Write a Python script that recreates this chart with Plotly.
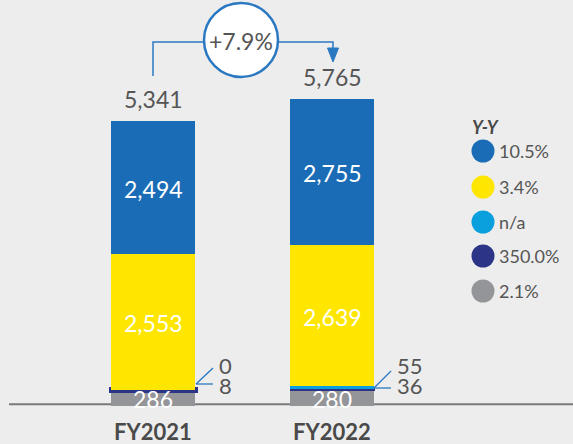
import plotly.graph_objects as go

# ---------------- data ----------------
categories = ["FY2021", "FY2022"]
gray_vals = [286, 280]
navy_vals = [8, 36]
lightblue_vals = [0, 55]
yellow_vals = [2553, 2639]
blue_vals = [2494, 2755]
totals = [5341, 5765]
growth_label = "+7.9%"
legend_title = "Y-Y"
legend_labels = ["10.5%", "3.4%", "n/a", "350.0%", "2.1%"]

# ---------------- style ----------------
W, H = 573, 444
BG = "#ededed"
C_BLUE = "#1a6cb6"
C_YELLOW = "#ffe600"
C_LBLUE = "#0aa0de"
C_NAVY = "#2b3486"
C_GRAY = "#949598"
C_LINE = "#2a78c2"
TXT = "#555555"
FONT = "Lato"

BASE_PX = 405.5      # pixel row of value 0
SCALE = 0.0532       # pixels per unit
yrange = [-(H - BASE_PX) / SCALE, BASE_PX / SCALE]
PX_PER_CAT = 179.0
X0_PX = 153.0
xrange = [-X0_PX / PX_PER_CAT, (W - X0_PX) / PX_PER_CAT]


def px(x):
    return x / W


def py(y):
    return 1 - y / H


fig = go.Figure()

series = [
    (gray_vals, C_GRAY, "gray"),
    (navy_vals, C_NAVY, "navy"),
    (lightblue_vals, C_LBLUE, "lightblue"),
    (yellow_vals, C_YELLOW, "yellow"),
    (blue_vals, C_BLUE, "blue"),
]
for vals, col, name in series:
    line = dict(width=0)
    if name == "navy":
        line = dict(width=[5, 1], color=C_NAVY)
    fig.add_trace(go.Bar(x=categories, y=vals, name=name,
                         marker=dict(color=col, line=line),
                         hoverinfo="skip", showlegend=False))

annotations = []
shapes = []


def ann(**kw):
    kw.setdefault("showarrow", False)
    kw.setdefault("xanchor", "center")
    kw.setdefault("yanchor", "middle")
    annotations.append(kw)


for i, cat in enumerate(categories):
    g = gray_vals[i]
    base_y = g + navy_vals[i] + lightblue_vals[i]
    # inside labels (white)
    for val, bottom in [(g, 0), (yellow_vals[i], base_y),
                        (blue_vals[i], base_y + yellow_vals[i])]:
        ann(x=cat, y=bottom + val / 2, xref="x", yref="y", text=f"{val:,}",
            font=dict(family=FONT, size=23, color="white"), yshift=-1)
    # totals
    ann(x=cat, y=totals[i], xref="x", yref="y", text=f"{totals[i]:,}",
        yanchor="bottom", yshift=6, font=dict(family=FONT, size=23, color=TXT))
    # small segment labels
    xs = 64 if i == 0 else 63
    ann(x=cat, y=g, xref="x", yref="y", text=f"{lightblue_vals[i]:,}",
        xanchor="left", xshift=xs, yshift=25, font=dict(family=FONT, size=22, color=TXT))
    ann(x=cat, y=g, xref="x", yref="y", text=f"{navy_vals[i]:,}",
        xanchor="left", xshift=xs, yshift=5, font=dict(family=FONT, size=22, color=TXT))
    # category labels
    ann(x=cat, y=py(431), xref="x", yref="paper", text=f"<b>{cat}</b>",
        font=dict(family=FONT, size=22, color="#4a4a4a"))

# leader lines
for (x0, y0, x1, y1a, y1b) in [(196, 384, 213, 384, 368), (374, 388, 391, 388, 371)]:
    shapes.append(dict(type="line", xref="paper", yref="paper", x0=px(x0), y0=py(y0),
                       x1=px(x1), y1=py(y1a), line=dict(color=C_LINE, width=1.3)))
    shapes.append(dict(type="line", xref="paper", yref="paper", x0=px(x0), y0=py(y0),
                       x1=px(x1), y1=py(y1b), line=dict(color=C_LINE, width=1.3)))

# baseline
shapes.append(dict(type="line", xref="paper", yref="paper", x0=px(9), x1=1,
                   y0=py(404.3), y1=py(404.3), line=dict(color="#7a7a7a", width=2),
                   layer="below"))

# growth arrow
path = f"M {px(153)},{py(76)} L {px(153)},{py(42)} L {px(333)},{py(42)} L {px(333)},{py(50)}"
shapes.append(dict(type="path", xref="paper", yref="paper", path=path,
                   line=dict(color=C_LINE, width=1.5)))
head = f"M {px(327.5)},{py(48)} L {px(338.5)},{py(48)} L {px(333)},{py(62)} Z"
shapes.append(dict(type="path", xref="paper", yref="paper", path=head,
                   fillcolor=C_LINE, line=dict(color=C_LINE, width=1)))
shapes.append(dict(type="circle", xref="paper", yref="paper",
                   x0=px(204), x1=px(278), y0=py(77), y1=py(3),
                   fillcolor="white", line=dict(color=C_LINE, width=2.5)))
ann(x=px(241), y=py(41), xref="paper", yref="paper", text=growth_label,
    font=dict(family=FONT, size=23, color=TXT))

# legend
ann(x=px(470), y=py(127), xref="paper", yref="paper",
    text=f"<b><i>{legend_title}</i></b>", xanchor="left",
    font=dict(family=FONT, size=18, color="#4a4a4a"))
leg_colors = [C_BLUE, C_YELLOW, C_LBLUE, C_NAVY, C_GRAY]
leg_y = [151, 187, 222, 256, 291]
for lab, col, yy in zip(legend_labels, leg_colors, leg_y):
    shapes.append(dict(type="circle", xref="paper", yref="paper",
                       x0=px(483 - 11.5), x1=px(483 + 11.5), y0=py(yy + 11.5), y1=py(yy - 11.5),
                       fillcolor=col, line=dict(width=0)))
    ann(x=px(497), y=py(yy), xref="paper", yref="paper", text=lab, xanchor="left",
        font=dict(family=FONT, size=18, color=TXT))

fig.update_layout(
    width=W, height=H, barmode="stack", bargap=1 - 84 / PX_PER_CAT,
    paper_bgcolor=BG, plot_bgcolor=BG,
    margin=dict(l=0, r=0, t=0, b=0),
    xaxis=dict(range=xrange, visible=False, type="category"),
    yaxis=dict(range=yrange, visible=False),
    annotations=annotations, shapes=shapes,
    font=dict(family=FONT),
)

fig.write_html("out.html", config={"displayModeBar": False},
               post_script="document.body.style.margin='0';document.body.style.background='#ededed';")
